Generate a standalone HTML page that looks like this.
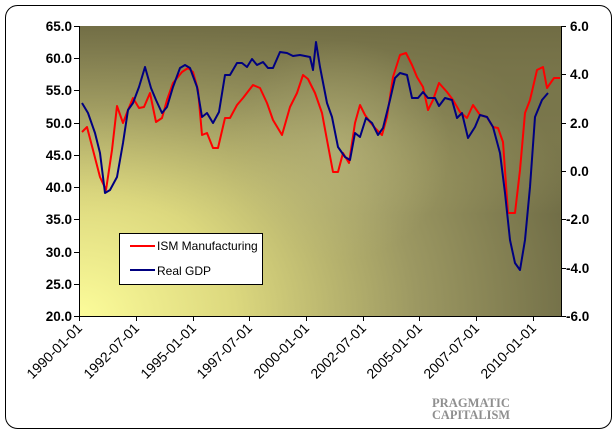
<!DOCTYPE html>
<html><head><meta charset="utf-8"><style>
html,body{margin:0;padding:0;background:#fff;width:616px;height:435px;overflow:hidden}
svg text{font-family:"Liberation Sans",Arial,sans-serif}
</style></head><body>
<svg width="616" height="435" viewBox="0 0 616 435" xmlns="http://www.w3.org/2000/svg">
<defs>
<radialGradient id="bg" cx="79" cy="316" r="520" gradientUnits="userSpaceOnUse" gradientTransform="translate(79 316) scale(1 0.8) translate(-79 -316)">
<stop offset="0" stop-color="#fcfc9a"/>
<stop offset="0.3" stop-color="#dcd87e"/>
<stop offset="0.65" stop-color="#9c9862"/>
<stop offset="1" stop-color="#6b6843"/>
</radialGradient>
<linearGradient id="top" x1="0" y1="26" x2="0" y2="316" gradientUnits="userSpaceOnUse">
<stop offset="0" stop-color="#706c44" stop-opacity="0.95"/>
<stop offset="0.3" stop-color="#8a8655" stop-opacity="0.45"/>
<stop offset="0.65" stop-color="#c9c57a" stop-opacity="0"/>
</linearGradient>
<radialGradient id="hl" cx="340" cy="150" r="110" gradientUnits="userSpaceOnUse">
<stop offset="0" stop-color="#c4c184" stop-opacity="0.45"/>
<stop offset="1" stop-color="#c4c184" stop-opacity="0"/>
</radialGradient>
</defs>
<rect x="5.5" y="5.5" width="606" height="423" rx="12" fill="#fff" stroke="#000" stroke-width="1"/>
<rect x="79" y="26" width="482" height="290" fill="url(#bg)"/>
<rect x="79" y="26" width="482" height="290" fill="url(#top)"/>
<rect x="79" y="26" width="482" height="290" fill="url(#hl)"/>
<g stroke="#000" stroke-width="1" fill="none">
<line x1="79.5" y1="26" x2="79.5" y2="316"/>
<line x1="561.5" y1="26" x2="561.5" y2="316"/>
<line x1="79" y1="316.5" x2="561" y2="316.5"/>
<path d="M74 26.5h5M74 58.5h5M74 90.5h5M74 123.5h5M74 155.5h5M74 187.5h5M74 219.5h5M74 252.5h5M74 284.5h5M74 316.5h5"/>
<path d="M561 26.5h5M561 74.5h5M561 123.5h5M561 171.5h5M561 219.5h5M561 268.5h5M561 316.5h5"/>
<path d="M79.5 316v5M136.5 316v5M193.5 316v5M249.5 316v5M306.5 316v5M363.5 316v5M419.5 316v5M476.5 316v5M533.5 316v5"/>
</g>
<g font-size="13.5" font-weight="bold" fill="#000" text-anchor="end">
<text x="72" y="31">65.0</text><text x="72" y="63">60.0</text><text x="72" y="95">55.0</text><text x="72" y="128">50.0</text><text x="72" y="160">45.0</text><text x="72" y="192">40.0</text><text x="72" y="224">35.0</text><text x="72" y="257">30.0</text><text x="72" y="289">25.0</text><text x="72" y="321">20.0</text>
</g>
<g font-size="13.5" font-weight="bold" fill="#000" text-anchor="start">
<text x="570" y="31">6.0</text><text x="570" y="79">4.0</text><text x="570" y="128">2.0</text><text x="570" y="176">0.0</text><text x="566" y="224">-2.0</text><text x="566" y="273">-4.0</text><text x="566" y="321">-6.0</text>
</g>
<g font-size="14" fill="#000" text-anchor="end">
<text transform="translate(83 329) rotate(-45)">1990-01-01</text>
<text transform="translate(140 329) rotate(-45)">1992-07-01</text>
<text transform="translate(197 329) rotate(-45)">1995-01-01</text>
<text transform="translate(253 329) rotate(-45)">1997-07-01</text>
<text transform="translate(310 329) rotate(-45)">2000-01-01</text>
<text transform="translate(367 329) rotate(-45)">2002-07-01</text>
<text transform="translate(423 329) rotate(-45)">2005-01-01</text>
<text transform="translate(480 329) rotate(-45)">2007-07-01</text>
<text transform="translate(537 329) rotate(-45)">2010-01-01</text>
</g>
<polyline fill="none" stroke="#ff0000" stroke-width="2" stroke-linejoin="round" points="82,132 87,127 93,150 100,177 106,190 112,150 117,106 123,123 128,110 133,98 139,108 144,107 150,93 156,122 162,118 167,100 173,83 182,72 188,68 193,72 198,90 202,135 207,133 213,148 218,148 225,118 230,118 237,105 243,98 253,85 260,88 267,103 273,120 282,135 290,107 297,93 303,75 308,79 315,93 322,113 327,140 333,172 338,172 343,153 349,163 355,123 360,105 365,115 370,122 375,128 382,135 387,117 393,77 400,55 406,53 412,65 417,77 423,87 428,110 433,100 439,83 447,92 453,100 460,112 467,118 473,105 480,115 487,117 493,127 498,128 503,142 508,213 515,213 520,170 525,113 530,100 537,70 543,67 547,88 554,78 560,78"/>
<polyline fill="none" stroke="#000080" stroke-width="2" stroke-linejoin="round" points="82,103 88,113 95,133 100,153 105,193 110,190 117,177 123,143 128,110 133,103 139,87 145,67 151,88 156,100 162,113 167,107 173,87 180,68 185,65 190,68 197,87 202,117 207,113 213,123 219,112 225,75 230,75 237,63 242,63 247,67 252,59 257,65 263,62 268,68 273,68 280,52 287,53 293,56 300,55 305,56 310,57 313,70 316,42 320,67 327,103 332,117 338,147 345,157 350,160 355,133 360,137 366,118 372,123 378,135 383,128 390,100 395,78 400,73 407,75 412,98 418,98 423,92 428,98 435,98 439,106 445,98 452,100 457,118 462,113 468,138 475,127 480,115 487,117 493,127 500,153 505,193 510,240 515,263 520,270 525,240 530,187 535,117 542,100 548,93"/>
<rect x="119.5" y="233.5" width="143" height="51" fill="#fff" stroke="#000"/>
<line x1="130" y1="246" x2="155" y2="246" stroke="#ff0000" stroke-width="2"/>
<line x1="130" y1="270" x2="155" y2="270" stroke="#000080" stroke-width="2"/>
<g font-size="12" fill="#000"><text x="157" y="250">ISM Manufacturing</text><text x="157" y="275">Real GDP</text></g>
<g font-weight="bold" font-size="13" fill="#8f8f8f" text-anchor="end">
<text x="510" y="407" textLength="78" lengthAdjust="spacingAndGlyphs" style="font-family:'Liberation Serif',serif">PRAGMATIC</text>
<text x="510" y="419" textLength="78" lengthAdjust="spacingAndGlyphs" style="font-family:'Liberation Serif',serif">CAPITALISM</text>
</g>
</svg>
</body></html>
